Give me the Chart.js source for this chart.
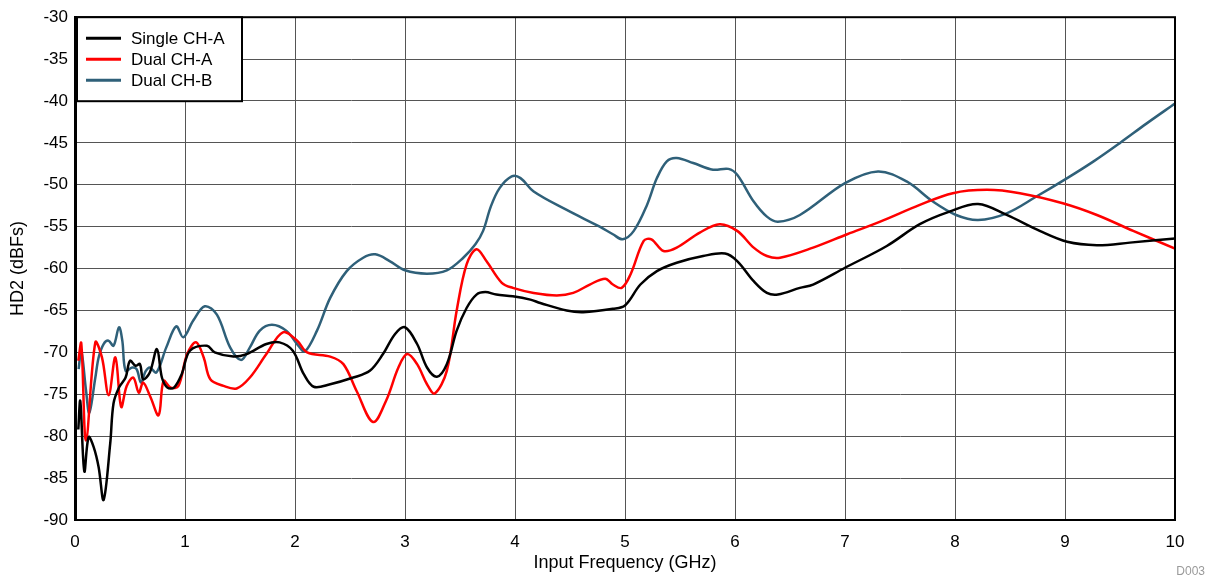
<!DOCTYPE html>
<html>
<head>
<meta charset="utf-8">
<title>HD2 vs Input Frequency</title>
<script src="https://cdn.jsdelivr.net/npm/chart.js@4.4.1/dist/chart.umd.min.js"></script>
<style>
  html, body { margin: 0; padding: 0; background: #fff; }
  canvas { display: block; }
</style>
</head>
<body>
<canvas id="hd2-chart" width="1209" height="581"></canvas>
<script>
// HD2 measurements, frequency in GHz, level in dBFs
var singleA_freq = [0.03, 0.048, 0.085, 0.124, 0.17, 0.215, 0.26, 0.32, 0.35, 0.40, 0.46, 0.50, 0.55, 0.59, 0.62, 0.68, 0.745, 0.79, 0.84, 0.90, 0.97, 1.045, 1.2, 1.27, 1.44, 1.56, 1.74, 1.86, 1.98, 2.08, 2.17, 2.32, 2.53, 2.68, 2.80, 2.91, 3.0, 3.11, 3.20, 3.29, 3.38, 3.47, 3.56, 3.65, 3.73, 3.83, 3.98, 4.14, 4.23, 4.47, 4.62, 4.89, 5.0, 5.14, 5.29, 5.47, 5.71, 5.91, 6.02, 6.17, 6.29, 6.39, 6.59, 6.71, 7.0, 7.38, 7.68, 7.95, 8.21, 8.47, 8.77, 9.02, 9.29, 9.59, 10.0];
var singleA_hd2  = [-79.2, -75.8, -84.2, -80.1, -81.3, -83.7, -87.6, -80.9, -76.1, -74.2, -73.0, -71.0, -71.6, -71.4, -73.2, -72.4, -69.6, -73.0, -74.2, -74.2, -72.6, -69.8, -69.2, -70.0, -70.5, -70.2, -69.0, -68.8, -69.8, -72.6, -74.1, -73.8, -73.0, -72.2, -70.2, -67.8, -67.0, -69.0, -71.8, -72.9, -71.4, -67.4, -64.7, -63.1, -62.8, -63.1, -63.3, -63.7, -64.1, -65.0, -65.2, -64.8, -64.4, -61.9, -60.3, -59.3, -58.5, -58.2, -59.1, -61.5, -62.9, -63.1, -62.3, -61.9, -59.9, -57.3, -54.7, -53.2, -52.3, -53.6, -55.5, -56.8, -57.2, -56.9, -56.4];

var dualA_freq = [0.03, 0.057, 0.1, 0.185, 0.245, 0.306, 0.367, 0.42, 0.47, 0.53, 0.58, 0.62, 0.685, 0.76, 0.805, 0.87, 0.94, 1.02, 1.10, 1.17, 1.23, 1.35, 1.47, 1.59, 1.74, 1.89, 2.02, 2.11, 2.32, 2.44, 2.56, 2.71, 2.83, 2.94, 3.02, 3.11, 3.2, 3.27, 3.38, 3.47, 3.56, 3.65, 3.74, 3.88, 3.98, 4.17, 4.38, 4.53, 4.68, 4.82, 4.89, 4.97, 5.05, 5.17, 5.24, 5.35, 5.47, 5.68, 5.86, 6.02, 6.17, 6.29, 6.41, 6.71, 7.02, 7.32, 7.68, 7.98, 8.29, 8.59, 8.98, 9.29, 9.62, 10.0];
var dualA_hd2  = [-71.0, -68.9, -80.5, -68.8, -70.6, -75.1, -70.6, -76.5, -74.0, -73.0, -74.8, -73.6, -75.3, -77.5, -73.4, -74.2, -74.0, -70.2, -68.8, -70.6, -73.2, -74.0, -74.3, -73.0, -70.2, -67.6, -68.6, -70.0, -70.5, -71.4, -74.6, -78.3, -75.7, -71.8, -70.2, -71.4, -73.8, -74.9, -72.2, -65.0, -59.5, -57.7, -59.1, -61.7, -62.3, -62.9, -63.2, -62.9, -61.9, -61.2, -61.9, -62.3, -60.7, -56.7, -56.5, -57.9, -57.5, -55.7, -54.7, -55.5, -57.5, -58.5, -58.7, -57.5, -55.9, -54.4, -52.4, -51.0, -50.6, -51.0, -52.2, -53.6, -55.5, -57.6];

var dualB_freq = [0.033, 0.057, 0.1, 0.13, 0.185, 0.215, 0.26, 0.305, 0.35, 0.40, 0.43, 0.46, 0.52, 0.56, 0.6, 0.64, 0.68, 0.74, 0.83, 0.92, 0.985, 1.075, 1.18, 1.29, 1.41, 1.51, 1.59, 1.68, 1.79, 1.92, 2.03, 2.09, 2.20, 2.32, 2.47, 2.62, 2.73, 2.86, 3.0, 3.2, 3.38, 3.53, 3.64, 3.71, 3.78, 3.86, 3.97, 4.05, 4.17, 4.47, 4.77, 4.89, 4.98, 5.08, 5.20, 5.29, 5.38, 5.47, 5.62, 5.80, 5.94, 6.02, 6.17, 6.29, 6.39, 6.59, 7.0, 7.30, 7.56, 7.80, 8.01, 8.21, 8.47, 8.74, 9.02, 9.26, 9.50, 9.74, 10.0];
var dualB_hd2  = [-72.0, -69.8, -74.5, -77.2, -73.0, -70.6, -69.0, -68.6, -69.2, -67.0, -68.6, -72.2, -71.8, -72.0, -73.6, -72.3, -71.8, -72.4, -69.4, -66.9, -68.2, -66.2, -64.5, -65.5, -69.4, -70.9, -69.4, -67.4, -66.7, -67.4, -69.2, -69.9, -67.4, -63.5, -60.3, -58.7, -58.3, -59.1, -60.2, -60.6, -60.2, -58.7, -57.1, -55.5, -52.6, -50.4, -49.0, -49.2, -50.8, -53.0, -55.0, -55.9, -56.5, -55.5, -52.4, -49.2, -47.2, -46.8, -47.4, -48.2, -48.1, -48.8, -52.0, -53.8, -54.4, -53.6, -49.8, -48.4, -49.6, -52.0, -53.6, -54.2, -53.4, -51.4, -49.2, -47.2, -45.0, -42.7, -40.3];

var seriesNames = ['Single CH-A', 'Dual CH-A', 'Dual CH-B'];
var seriesColors = ['#000000', '#ff0000', '#2f6079'];

function toPoints(xs, ys) {
    var pts = [];
    for (var i = 0; i < xs.length; i++) {
        pts.push({ x: xs[i], y: ys[i] });
    }
    return pts;
}

var fontFamily = '"Liberation Sans", Arial, sans-serif';

// legend box in the top-left corner of the plot, plus frame and figure id
var framePlugin = {
    id: 'frame',
    afterDatasetsDraw: function(chart) {
        var ctx = chart.ctx;
        var a = chart.chartArea;
        ctx.save();
        ctx.strokeStyle = '#000';
        ctx.lineWidth = 2;
        ctx.strokeRect(a.left, a.top, a.right - a.left, a.bottom - a.top);

        // legend
        var bx = a.left + 2, by = a.top, bw = 165, bh = 84;
        ctx.fillStyle = '#fff';
        ctx.fillRect(bx, by, bw, bh);
        ctx.lineWidth = 2;
        ctx.strokeRect(bx, by, bw, bh);
        ctx.font = '17px ' + fontFamily;
        ctx.textBaseline = 'middle';
        ctx.textAlign = 'left';
        chart.data.datasets.forEach(function(ds, i) {
            var ly = by + 21 + i * 21;
            ctx.strokeStyle = ds.borderColor;
            ctx.lineWidth = 3;
            ctx.beginPath();
            ctx.moveTo(bx + 9, ly);
            ctx.lineTo(bx + 44, ly);
            ctx.stroke();
            ctx.fillStyle = '#000';
            ctx.fillText(ds.label, bx + 54, ly + 1);
        });

        ctx.font = '12px ' + fontFamily;
        ctx.fillStyle = '#9a9a9a';
        ctx.textAlign = 'right';
        ctx.fillText('D003', 1205, 572);
        ctx.restore();
    }
};

new Chart(document.getElementById('hd2-chart'), {
    type: 'line',
    data: {
        datasets: [
            { label: seriesNames[0], data: toPoints(singleA_freq, singleA_hd2), borderColor: seriesColors[0] },
            { label: seriesNames[1], data: toPoints(dualA_freq, dualA_hd2), borderColor: seriesColors[1] },
            { label: seriesNames[2], data: toPoints(dualB_freq, dualB_hd2), borderColor: seriesColors[2] }
        ]
    },
    options: {
        responsive: false,
        animation: false,
        layout: { padding: { top: 15, right: 34, left: 0, bottom: 0 } },
        elements: {
            line: { borderWidth: 2.5, tension: 0.35, fill: false },
            point: { radius: 0 }
        },
        plugins: {
            legend: { display: false },
            title: { display: false },
            tooltip: { enabled: false }
        },
        scales: {
            x: {
                type: 'linear',
                min: 0,
                max: 10,
                ticks: {
                    stepSize: 1,
                    padding: 12,
                    color: '#000',
                    font: { family: fontFamily, size: 17 },
                    maxRotation: 0
                },
                grid: { color: '#555', lineWidth: 1, drawTicks: false },
                border: { display: true, color: '#000', width: 2 },
                title: {
                    display: true,
                    text: 'Input Frequency (GHz)',
                    color: '#000',
                    font: { family: fontFamily, size: 18 },
                    padding: { top: 0, bottom: 7 }
                },
                afterFit: function(scale) { scale.height = 61; }
            },
            y: {
                min: -90,
                max: -30,
                ticks: {
                    stepSize: 5,
                    padding: 7,
                    color: '#000',
                    font: { family: fontFamily, size: 17 }
                },
                grid: { color: '#555', lineWidth: 1, drawTicks: false },
                border: { display: true, color: '#000', width: 3 },
                title: {
                    display: true,
                    text: 'HD2 (dBFs)',
                    color: '#000',
                    font: { family: fontFamily, size: 18 },
                    padding: { top: 7, bottom: 0 }
                },
                afterFit: function(scale) { scale.width = 75; }
            }
        }
    },
    plugins: [framePlugin]
});
</script>
</body>
</html>
